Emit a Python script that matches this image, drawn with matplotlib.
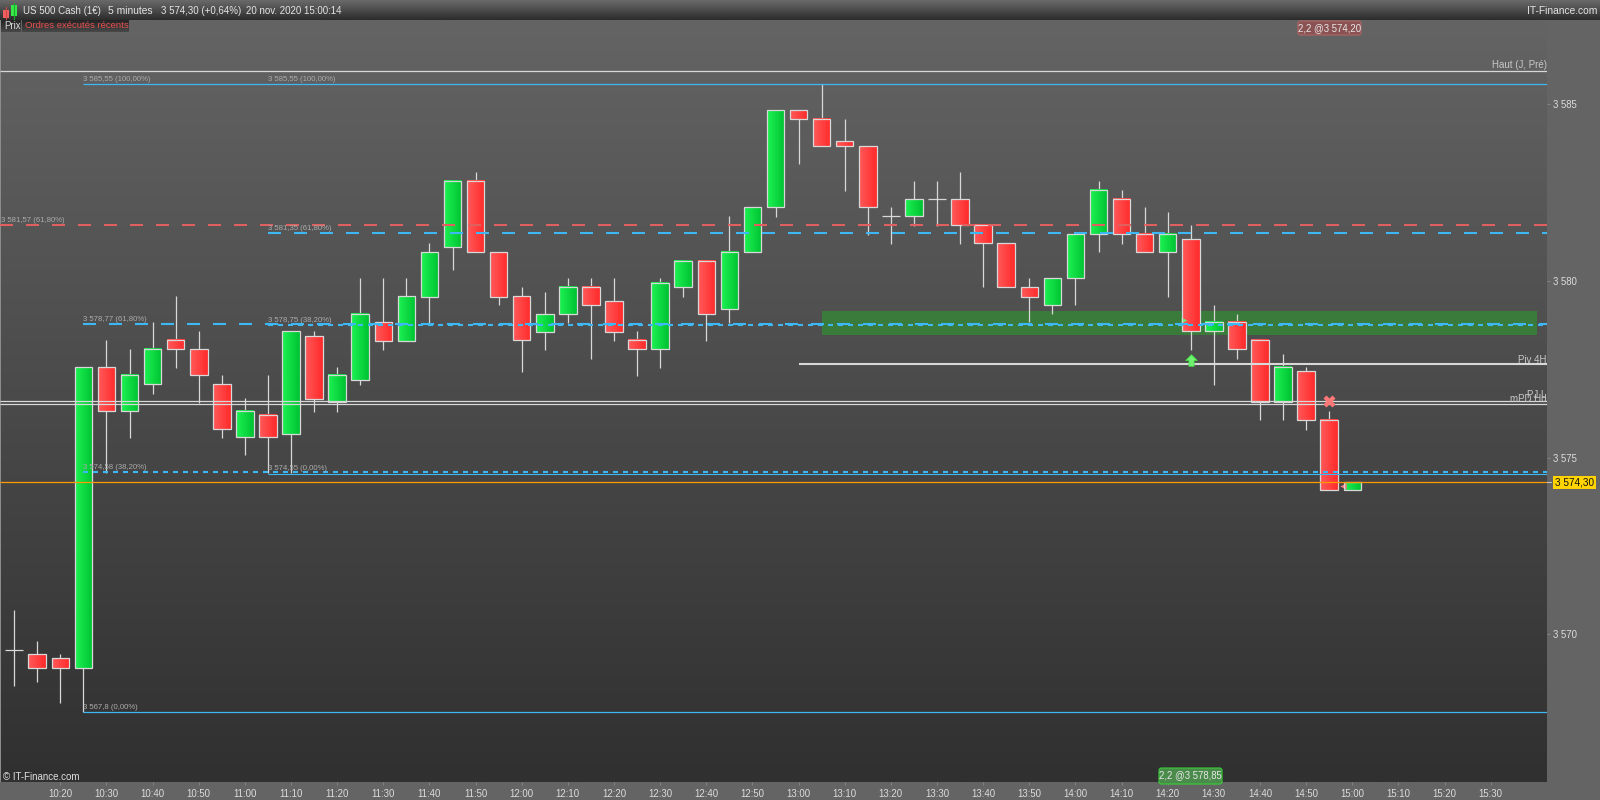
import numpy as np
import matplotlib
matplotlib.use('Agg')
import matplotlib.pyplot as plt
from matplotlib.colors import LinearSegmentedColormap
from matplotlib.patches import Rectangle, FancyBboxPatch
from matplotlib.path import Path
from matplotlib.transforms import blended_transform_factory

plt.rcParams['font.family'] = ['Liberation Sans', 'DejaVu Sans']
plt.rcParams['lines.scale_dashes'] = False

opens = [3569.55, 3569.44, 3569.33, 3569.06, 3577.55, 3576.31, 3577.07, 3578.33, 3578.06, 3577.07,
         3575.57, 3576.20, 3575.68, 3578.43, 3576.56, 3577.18, 3578.82, 3578.31, 3579.55, 3580.94,
         3582.81, 3580.80, 3579.56, 3578.56, 3579.05, 3579.82, 3579.42, 3578.32, 3578.06, 3579.81,
         3580.55, 3579.19, 3580.81, 3582.08, 3584.82, 3584.57, 3583.94, 3583.80, 3581.82, 3581.82,
         3582.30, 3582.30, 3581.57, 3581.06, 3579.82, 3579.31, 3580.07, 3581.31, 3582.30, 3581.31,
         3580.80, 3581.17, 3578.57, 3578.83, 3578.32, 3576.56, 3577.44, 3576.06, 3574.08]
closes = [3569.55, 3569.06, 3569.06, 3577.55, 3576.31, 3577.33, 3578.06, 3578.06, 3577.33, 3575.80,
          3576.31, 3575.57, 3578.57, 3576.67, 3577.33, 3579.05, 3578.31, 3579.56, 3580.80, 3582.81,
          3580.80, 3579.55, 3578.32, 3579.05, 3579.82, 3579.31, 3578.56, 3578.06, 3579.93, 3580.55,
          3579.05, 3580.81, 3582.08, 3584.82, 3584.57, 3583.80, 3583.80, 3582.08, 3581.82, 3582.30,
          3582.30, 3581.57, 3581.06, 3579.82, 3579.55, 3580.07, 3581.31, 3582.56, 3581.31, 3580.80,
          3581.31, 3578.57, 3578.83, 3578.06, 3576.56, 3577.55, 3576.06, 3574.08, 3574.30]
highs = [3570.69, 3569.82, 3569.45, 3577.55, 3578.33, 3578.06, 3578.82, 3579.57, 3578.57, 3577.34,
         3576.68, 3577.34, 3578.57, 3578.57, 3577.56, 3580.08, 3580.08, 3580.08, 3581.07, 3582.81,
         3583.08, 3580.80, 3579.83, 3579.68, 3580.07, 3580.07, 3580.07, 3578.57, 3580.07, 3580.55,
         3580.55, 3581.83, 3582.08, 3584.82, 3584.82, 3585.55, 3584.57, 3583.80, 3582.09, 3582.82,
         3582.82, 3583.08, 3581.57, 3581.06, 3580.07, 3580.07, 3581.31, 3582.82, 3582.57, 3582.09,
         3581.94, 3581.58, 3579.32, 3579.06, 3578.32, 3577.93, 3577.55, 3576.32, 3574.30]
lows = [3568.55, 3568.67, 3568.05, 3567.80, 3574.56, 3575.56, 3576.81, 3577.54, 3576.55, 3575.56,
        3575.06, 3574.56, 3574.56, 3576.30, 3576.30, 3577.05, 3578.04, 3578.31, 3578.80, 3580.31,
        3580.80, 3579.30, 3577.41, 3578.05, 3578.80, 3577.80, 3578.31, 3577.32, 3577.54, 3579.55,
        3578.31, 3578.80, 3580.81, 3581.81, 3583.31, 3583.80, 3582.55, 3581.30, 3581.05, 3581.56,
        3581.56, 3581.05, 3579.81, 3579.82, 3578.83, 3579.05, 3579.30, 3580.80, 3581.05, 3580.80,
        3579.55, 3578.04, 3577.06, 3577.80, 3576.05, 3576.05, 3575.79, 3574.08, 3574.08]

time_ticks = list(range(2, 65, 2))
time_labels = ['10:20', '10:30', '10:40', '10:50', '11:00', '11:10', '11:20', '11:30', '11:40', '11:50',
               '12:00', '12:10', '12:20', '12:30', '12:40', '12:50', '13:00', '13:10', '13:20', '13:30',
               '13:40', '13:50', '14:00', '14:10', '14:20', '14:30', '14:40', '14:50', '15:00', '15:10',
               '15:20', '15:30']
price_ticks = [3570, 3575, 3580, 3585]
price_labels = ['3 570', '3 575', '3 580', '3 585']

BLUE = '#3db8f5'
WHITE = '#d8d8d8'
RED_DASH = '#e06060'
ORANGE = '#ff9a00'

xleft, xright = -0.614, 66.44
ybottom, ytop = 3565.83, 3587.37

green_cmap = LinearSegmentedColormap.from_list('g', ['#1cf252', '#00c232'])
red_cmap = LinearSegmentedColormap.from_list('r', ['#ff5a5a', '#ff2a2a'])
ramp = np.linspace(0, 1, 32).reshape(1, -1)

fig = plt.figure(figsize=(16, 8), dpi=100)

# page background, axis strips
bg = fig.add_axes([0, 0, 1, 1], zorder=0)
bg.set_xlim(0, 1600)
bg.set_ylim(800, 0)
bg.axis('off')
back_cmap = LinearSegmentedColormap.from_list('b', ['#646464', '#303030'])
bg.imshow(np.linspace(0, 1, 256).reshape(-1, 1), extent=(0, 1547, 782, 20), cmap=back_cmap, aspect='auto')
bg.add_patch(Rectangle((1547, 20), 53, 780, color='#646464', lw=0))
bg.add_patch(Rectangle((0, 782), 1600, 18, color='#646464', lw=0))
bg.add_patch(Rectangle((0, 20), 1, 762, color='#8c8c8c', lw=0))
bg.set_xlim(0, 1600)
bg.set_ylim(800, 0)

ax = fig.add_axes([0, 18 / 800, 1547 / 1600, 762 / 800], zorder=1)
ax.patch.set_alpha(0)
for spine in ax.spines.values():
    spine.set_visible(False)

# green zone
ax.add_patch(Rectangle((35, 3578.47), 31, 0.68, color='#3a7a3a', lw=0, zorder=1))

body_w = 0.76
for i, (o, h, l, c) in enumerate(zip(opens, highs, lows, closes)):
    ax.plot([i, i], [l, h], color=WHITE, lw=0.9, zorder=2, solid_capstyle='butt')
    if o == c:
        ax.plot([i - body_w / 2, i + body_w / 2], [o, o], color=WHITE, lw=0.9, zorder=3, solid_capstyle='butt')
        continue
    bottom, top = min(o, c), max(o, c)
    cmap = green_cmap if c > o else red_cmap
    ax.imshow(ramp, extent=(i - body_w / 2, i + body_w / 2, bottom, top), cmap=cmap, aspect='auto', zorder=3)
    ax.add_patch(Rectangle((i - body_w / 2, bottom), body_w, top - bottom, fill=False, ec=WHITE, lw=0.9, zorder=4))

# levels
solid_levels = [(xleft, 3585.94, WHITE, 0.9), (3, 3585.55, BLUE, 0.9), (xleft, 3576.59, WHITE, 0.9),
                (xleft, 3576.51, WHITE, 0.9), (34, 3577.65, WHITE, 1.5), (11, 3574.55, BLUE, 0.8),
                (3, 3567.80, BLUE, 0.9), (xleft, 3574.30, ORANGE, 0.9)]
for x0, price, color, width in solid_levels:
    ax.plot([x0, xright], [price, price], color=color, lw=width, zorder=5, solid_capstyle='butt')

long_dash = (0, (9.36, 9.36))
short_dash = (0, (3.6, 3.6))
dashed_levels = [(xleft, 3581.57, RED_DASH, long_dash), (11, 3581.35, BLUE, long_dash),
                 (3, 3578.77, BLUE, long_dash), (11, 3578.75, BLUE, short_dash), (3, 3574.58, BLUE, short_dash)]
for x0, price, color, style in dashed_levels:
    ax.plot([x0, xright], [price, price], color=color, lw=1.5, ls=style, zorder=5)

# fibo labels
fib_labels = [(3, 3585.55, '3 585,55 (100,00%)'), (11, 3585.55, '3 585,55 (100,00%)'),
              (xleft + 0.03, 3581.57, '3 581,57 (61,80%)'), (11, 3581.35, '3 581,35 (61,80%)'),
              (3, 3578.77, '3 578,77 (61,80%)'), (11, 3578.75, '3 578,75 (38,20%)'),
              (3, 3574.58, '3 574,58 (38,20%)'), (11, 3574.55, '3 574,55 (0,00%)'),
              (3, 3567.80, '3 567,8 (0,00%)')]
for x0, price, label in fib_labels:
    ax.text(x0, price + 0.03, label, color='#ababab', fontsize=5.6, ha='left', va='bottom', zorder=6)

# right aligned level names
for price, label in [(3585.95, 'Haut (J, Pré)'), (3577.62, 'Piv 4H'), (3576.64, 'PJ L'), (3576.51, 'mPD Hd')]:
    ax.text(xright - 0.02, price, label, color='#c8c8c8', fontsize=7, ha='right', va='bottom', zorder=6)

# order markers
arrow_up = Path([(0, 1), (1, 0), (0.45, 0), (0.45, -1), (-0.45, -1), (-0.45, 0), (-1, 0), (0, 1)])
ax.scatter([49 + 2], [3577.77], marker=arrow_up, s=70, color='#70f070', edgecolors='#40e040', lw=0.5, zorder=7)
ax.scatter([57], [3576.59], marker='X', s=75, color='#ff7878', lw=0, zorder=7)
ax.scatter([50.7], [3578.88], marker='>', s=16, color='#70e870', lw=0, zorder=3)
ax.scatter([57.6], [3574.20], marker='<', s=22, color='#f08080', lw=0, zorder=3)

ax.set_xlim(xleft, xright)
ax.set_ylim(ybottom, ytop)
ax.yaxis.tick_right()
ax.set_xticks(time_ticks)
ax.set_xticklabels(time_labels)
ax.set_yticks(price_ticks)
ax.set_yticklabels(price_labels)
ax.tick_params(axis='x', colors='#dcdcdc', labelsize=6.9, length=2, width=0.6, pad=3, color='#8a8a8a')
ax.tick_params(axis='y', colors='#dcdcdc', labelsize=6.9, length=2.5, width=0.6, pad=1.8, color='#8a8a8a')

# last price tag
trans = blended_transform_factory(ax.transAxes, ax.transData)
ax.text(1.0052, 3574.30, '3 574,30', transform=trans, color='#111111', fontsize=7.2, ha='left', va='center',
        clip_on=False, zorder=8, bbox=dict(boxstyle='square,pad=0.18', fc='#ffd400', ec='none'))
ax.plot([1.0, 1.0025], [3574.30, 3574.30], transform=trans, color='#dcdcdc', lw=0.6, clip_on=False, zorder=8)

# chrome on top: title bar, tabs, order tags
ui = fig.add_axes([0, 0, 1, 1], zorder=2)
ui.patch.set_alpha(0)
ui.axis('off')
bar_cmap = LinearSegmentedColormap.from_list('t', ['#6a6a6a', '#2c2c2c'])
ui.imshow(np.linspace(0, 1, 64).reshape(-1, 1), extent=(0, 1600, 20, 0), cmap=bar_cmap, aspect='auto')
tab_cmap = LinearSegmentedColormap.from_list('tab', ['#242424', '#484848'])
for x0, x1 in [(1, 21), (22, 129)]:
    ui.imshow(np.linspace(0, 1, 32).reshape(-1, 1), extent=(x0, x1, 32, 20), cmap=tab_cmap, aspect='auto')
ui.set_xlim(0, 1600)
ui.set_ylim(800, 0)

# little candle icon
ui.plot([6, 6], [7, 19], color='#d04848', lw=0.8)
ui.add_patch(Rectangle((3, 10), 6, 7.5, fc='#f06060', ec='none'))
ui.plot([14, 14], [3, 19], color='#18b028', lw=0.8)
ui.add_patch(Rectangle((11, 5), 6, 10.5, fc='#38e848', ec='none'))

title_parts = [(23, 'US 500 Cash (1€)', 7.0), (108, '5 minutes', 7.4), (161, '3 574,30 (+0,64%)', 7.0),
               (246, '20 nov. 2020 15:00:14', 7.0)]
for x0, label, size in title_parts:
    ui.text(x0, 10.5, label, color='#e4e4e4', fontsize=size, ha='left', va='center')
ui.text(1597, 10.5, 'IT-Finance.com', color='#e4e4e4', fontsize=7.4, ha='right', va='center')
ui.text(4, 26, 'Prix', color='#dddddd', fontsize=6.9, ha='left', va='center')
ui.text(25, 26, 'Ordres exécutés récents', color='#e85050', fontsize=6.8, ha='left', va='center')
ui.text(3, 777, '© IT-Finance.com', color='#e0e0e0', fontsize=7, ha='left', va='center')

ui.add_patch(FancyBboxPatch((1298, 21), 63, 14, boxstyle='round,pad=0,rounding_size=2.5', fc='#8a5252', ec='#b06464', lw=0.8))
ui.text(1329.5, 28, '2,2 @3 574,20', color='#e8e8e8', fontsize=6.9, ha='center', va='center')
ui.add_patch(FancyBboxPatch((1159, 768), 63, 16, boxstyle='round,pad=0,rounding_size=2.5', fc='#4a8a4a', ec='#38d038', lw=0.8))
ui.text(1190.5, 775, '2,2 @3 578,85', color='#e8e8e8', fontsize=6.9, ha='center', va='center')

fig.savefig('out.png', dpi=100)
